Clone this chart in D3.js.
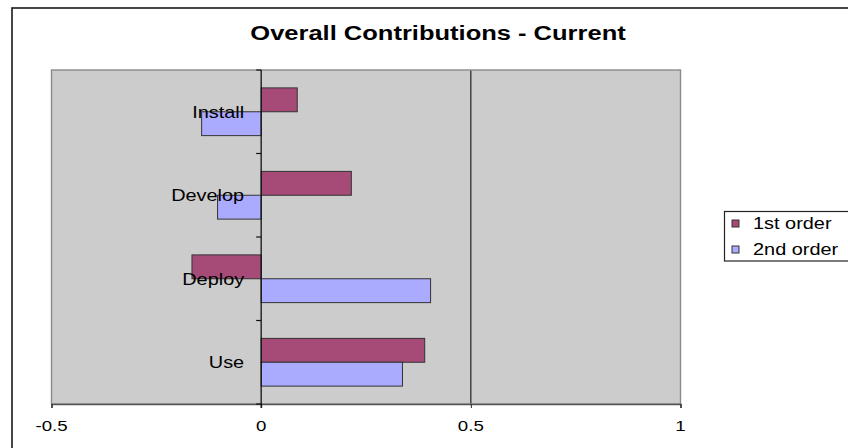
<!DOCTYPE html>
<html>
<head>
<meta charset="utf-8">
<script src="https://cdn.jsdelivr.net/npm/d3@7"></script>
<style>
  html, body { margin: 0; padding: 0; background: #ffffff; }
  svg { display: block; }
  text { font-family: "Liberation Sans", Arial, sans-serif; fill: #000; }
</style>
</head>
<body>
<svg id="chart" width="848" height="448"></svg>
<script>
// Chart data
const categories = ["Install", "Develop", "Deploy", "Use"];
const seriesNames = ["1st order", "2nd order"];
const firstOrder  = [0.086, 0.215, -0.165, 0.390];
const secondOrder = [-0.142, -0.104, 0.404, 0.337];
const xTicks = [-0.5, 0, 0.5, 1];
const xTickLabels = ["-0.5", "0", "0.5", "1"];
const seriesColors = ["#a64a78", "#aaaaff"];

const titleText = "Overall Contributions - Current";

const svg = d3.select("#chart");
const stretch = 1.245; // horizontal glyph stretch of all labels

// Plot area
const plot = { left: 51.5, right: 680.5, top: 70, bottom: 404 };

const x = d3.scaleLinear().domain([-0.5, 1]).range([plot.left, plot.right]);
const y = d3.scaleBand().domain(categories)
  .range([plot.top, plot.bottom])
  .paddingInner(3 / 7).paddingOuter(3 / 14);
const ySub = d3.scaleBand().domain(seriesNames).range([0, y.bandwidth()]);

// Outer chart frame (extends past the right/bottom edges)
svg.append("rect")
  .attr("x", 12).attr("y", 8)
  .attr("width", 900).attr("height", 500)
  .attr("fill", "#fff").attr("stroke", "#1a1a1a").attr("stroke-width", 1.6);

// Title
svg.append("text")
  .attr("transform", `translate(438,40) scale(${stretch},1)`)
  .attr("text-anchor", "middle")
  .attr("font-weight", "bold")
  .attr("font-size", 20.5)
  .text(titleText);

// Plot background
svg.append("rect")
  .attr("x", plot.left).attr("y", plot.top)
  .attr("width", plot.right - plot.left).attr("height", plot.bottom - plot.top)
  .attr("fill", "#cccccc");

// Vertical gridline at 0.5
svg.append("g")
  .selectAll("line")
  .data(xTicks.filter(d => d !== -0.5 && d !== 1 && d !== 0))
  .join("line")
  .attr("x1", d => x(d)).attr("x2", d => x(d))
  .attr("y1", plot.top).attr("y2", plot.bottom)
  .attr("stroke", "#222").attr("stroke-width", 1.2);

// Plot border (grey frame)
svg.append("rect")
  .attr("x", plot.left).attr("y", plot.top)
  .attr("width", plot.right - plot.left).attr("height", plot.bottom - plot.top)
  .attr("fill", "none").attr("stroke", "#8a8a8a").attr("stroke-width", 1.4);

// Bars
const rows = categories.map((c, i) => ({ cat: c, vals: [firstOrder[i], secondOrder[i]] }));
const groups = svg.append("g").selectAll("g")
  .data(rows).join("g")
  .attr("transform", d => `translate(0,${y(d.cat)})`);

groups.selectAll("rect")
  .data(d => d.vals.map((v, k) => ({ v, k })))
  .join("rect")
  .attr("x", d => Math.min(x(0), x(d.v)))
  .attr("width", d => Math.abs(x(d.v) - x(0)))
  .attr("y", d => ySub(seriesNames[d.k]))
  .attr("height", ySub.bandwidth())
  .attr("fill", d => seriesColors[d.k])
  .attr("stroke", "#333").attr("stroke-width", 1);

// Value axis along the bottom
const xAxis = d3.axisBottom(x).tickValues(xTicks).tickSize(4).tickFormat("");
const gx = svg.append("g")
  .attr("transform", `translate(0,${plot.bottom})`)
  .call(xAxis);
gx.select(".domain").attr("stroke", "#555").attr("stroke-width", 1.5);
gx.selectAll(".tick line").attr("stroke", "#222");

svg.append("g").selectAll("text")
  .data(xTicks)
  .join("text")
  .attr("transform", d => `translate(${x(d)},431) scale(${stretch},1)`)
  .attr("text-anchor", "middle")
  .attr("font-size", 15)
  .text((d, i) => xTickLabels[i]);

// Category axis crossing at zero
const yBoundaries = d3.range(categories.length + 1)
  .map(i => plot.top + i * (plot.bottom - plot.top) / categories.length);
const ga = svg.append("g");
ga.append("line")
  .attr("x1", x(0)).attr("x2", x(0))
  .attr("y1", plot.top).attr("y2", plot.bottom + 4)
  .attr("stroke", "#111").attr("stroke-width", 1.3);
ga.selectAll("line.tk")
  .data(yBoundaries)
  .join("line").attr("class", "tk")
  .attr("x1", x(0) - 5).attr("x2", x(0))
  .attr("y1", d => d).attr("y2", d => d)
  .attr("stroke", "#111").attr("stroke-width", 1.2);

// Category labels beside the zero axis
svg.append("g").selectAll("text")
  .data(categories)
  .join("text")
  .attr("transform", d => `translate(${x(0) - 17},${y(d) + y.bandwidth() / 2 + 5.8}) scale(${stretch},1)`)
  .attr("text-anchor", "end")
  .attr("font-size", 16)
  .text(d => d);

// Legend
const lg = svg.append("g");
lg.append("rect")
  .attr("x", 724.5).attr("y", 211.5)
  .attr("width", 160).attr("height", 49.5)
  .attr("fill", "#fff").attr("stroke", "#222").attr("stroke-width", 1.2);
seriesNames.forEach((s, i) => {
  const cy = 223.5 + i * 26;
  lg.append("rect")
    .attr("x", 732).attr("y", cy - 3.5)
    .attr("width", 7).attr("height", 7)
    .attr("fill", seriesColors[i]).attr("stroke", "#333").attr("stroke-width", 1);
  lg.append("text")
    .attr("transform", `translate(753,${cy + 5.5}) scale(${stretch},1)`)
    .attr("font-size", 16)
    .text(s);
});
</script>
</body>
</html>
